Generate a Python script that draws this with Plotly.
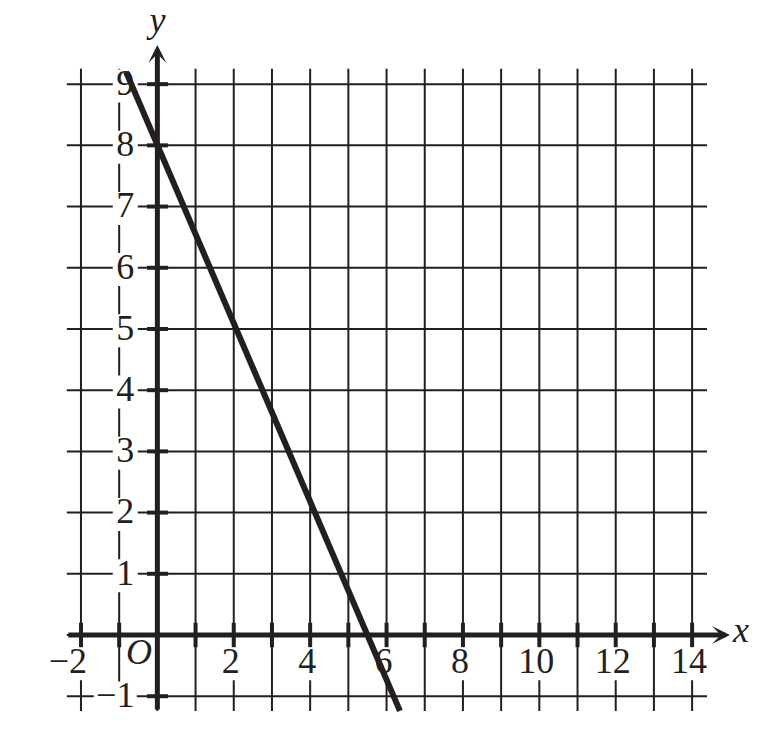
import plotly.graph_objects as go

# recta dibujada sobre la cuadrícula (extremos)
recta_x = [-0.82, 6.35]
recta_y = [9.2, -1.24]

# líneas de la cuadrícula
grid_x = list(range(-2, 15))
grid_y = list(range(-1, 10))

# etiquetas de los ejes
x_ticks = [-2, 2, 4, 6, 8, 10, 12, 14]
x_tick_text = ["−2", "2", "4", "6", "8", "10", "12", "14"]
y_ticks = [-1, 1, 2, 3, 4, 5, 6, 7, 8, 9]
y_tick_text = ["−1", "1", "2", "3", "4", "5", "6", "7", "8", "9"]

W, H = 775, 747
X_RANGE = [-4.12, 16.17]
Y_RANGE = [-1.83, 10.375]
px_x = W / (X_RANGE[1] - X_RANGE[0])
px_y = H / (Y_RANGE[1] - Y_RANGE[0])

GRID_X0, GRID_X1 = -2.37, 14.39
GRID_Y0, GRID_Y1 = -1.24, 9.25
NEGRO = "#231f20"
FUENTE = "Liberation Serif"


def ancho(texto):
    return len(texto) * 18 + 7


fig = go.Figure()

# cuadrícula
gx, gy = [], []
for v in grid_x:
    gx += [v, v, None]
    gy += [GRID_Y0, GRID_Y1, None]
for v in grid_y:
    gx += [GRID_X0, GRID_X1, None]
    gy += [v, v, None]
fig.add_trace(go.Scatter(x=gx, y=gy, mode="lines", line=dict(color=NEGRO, width=2), hoverinfo="skip"))

# marcas sobre los ejes
tx, ty = [], []
for v in grid_y:
    if v != 0:
        tx += [-0.27, 0.28, None]
        ty += [v, v, None]
for v in grid_x:
    if v != 0:
        tx += [v, v, None]
        ty += [-0.2, 0.2, None]
fig.add_trace(go.Scatter(x=tx, y=ty, mode="lines", line=dict(color=NEGRO, width=4), hoverinfo="skip"))

# posiciones de las etiquetas y sus fondos blancos
lx, ly, ltxt = [], [], []
bx, by = [], []
for v, t in zip(x_ticks, x_tick_text):
    cx = v - 3 / px_x - (10 / px_x if t.startswith("−") else 0)
    lx.append(cx)
    ly.append(-0.48)
    ltxt.append(t)
    hw = ancho(t) / 2 / px_x
    hh = 16.5 / px_y
    cy = -0.47
    bx += [cx - hw, cx + hw, cx + hw, cx - hw, cx - hw, None]
    by += [cy - hh, cy - hh, cy + hh, cy + hh, cy - hh, None]
for v, t in zip(y_ticks, y_tick_text):
    cx = -0.84 - (10 / px_x if t.startswith("−") else 0)
    cy = v - 0.03
    lx.append(cx)
    ly.append(cy)
    ltxt.append(t)
    hw = ancho(t) / 2 / px_x
    hh = 16.5 / px_y
    bx += [cx - hw, cx + hw, cx + hw, cx - hw, cx - hw, None]
    by += [cy - hh, cy - hh, cy + hh, cy + hh, cy - hh, None]

fig.add_trace(go.Scatter(x=bx, y=by, mode="lines", fill="toself", fillcolor="white",
                         line=dict(width=0, color="white"), hoverinfo="skip"))

fig.add_trace(go.Scatter(x=lx, y=ly, text=ltxt, mode="text", textposition="middle center",
                         textfont=dict(family=FUENTE, size=36, color=NEGRO),
                         cliponaxis=False, hoverinfo="skip"))

# O, x, y en cursiva
fig.add_trace(go.Scatter(x=[-0.48, 15.28, 0], y=[-0.32, 0.04, 10.0], text=["O", "x", "y"],
                         mode="text", textposition="middle center",
                         textfont=dict(family=FUENTE, size=36, color=NEGRO, style="italic"),
                         cliponaxis=False, hoverinfo="skip"))

# recta
fig.add_trace(go.Scatter(x=recta_x, y=recta_y, mode="lines", line=dict(color=NEGRO, width=6),
                         hoverinfo="skip"))

# ejes con flecha
fig.add_annotation(x=14.99, y=0, ax=GRID_X0, ay=0, xref="x", yref="y", axref="x", ayref="y",
                   text="", showarrow=True, arrowhead=3, arrowsize=0.6, arrowwidth=5,
                   arrowcolor=NEGRO, standoff=0)
fig.add_annotation(x=0, y=9.64, ax=0, ay=GRID_Y0, xref="x", yref="y", axref="x", ayref="y",
                   text="", showarrow=True, arrowhead=3, arrowsize=0.6, arrowwidth=5,
                   arrowcolor=NEGRO, standoff=0)

fig.update_xaxes(visible=False, range=X_RANGE)
fig.update_yaxes(visible=False, range=Y_RANGE)
fig.update_layout(
    width=W, height=H,
    margin=dict(l=0, r=0, t=0, b=0, pad=0),
    showlegend=False,
    plot_bgcolor="white", paper_bgcolor="white",
)

fig.write_html("out.html", config={"displayModeBar": False},
               post_script="document.body.style.margin='0px';")
